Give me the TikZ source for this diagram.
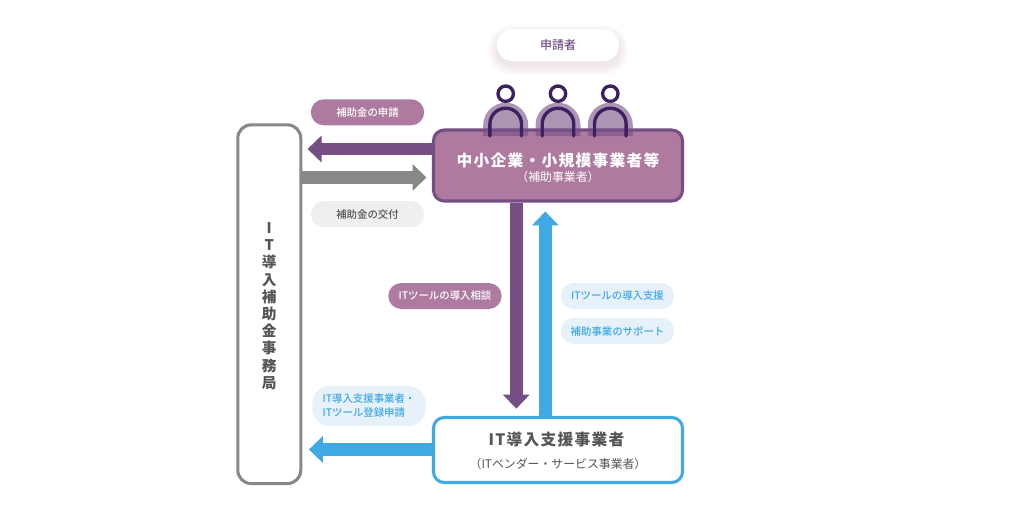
\documentclass[tikz,border=0pt]{standalone}
\usepackage{fontspec}
\setmainfont{Noto Sans CJK JP}[BoldFont={Noto Sans CJK JP Medium}]
\newfontfamily\spacedfont[LetterSpace=8]{Noto Sans CJK JP}
\newfontfamily\heavyfont{Noto Sans CJK JP}
\usetikzlibrary{arrows.meta}
\definecolor{boxpurple}{HTML}{AE7AA0}
\definecolor{deeppurple}{HTML}{754F83}
\definecolor{darkpurple}{HTML}{3B2160}
\definecolor{itblue}{HTML}{3FA9E3}
\definecolor{paleblue}{HTML}{E6F1FA}
\definecolor{midgrey}{HTML}{888888}
\definecolor{palegrey}{HTML}{EFEFEF}
\definecolor{textgrey}{HTML}{555555}
\tikzset{
	every node/.style={inner sep=0pt, align=center},
	pill/.style={rounded corners=9.7pt, minimum width=85pt, minimum height=19.5pt, font=\fontsize{7.8}{10.5}\selectfont\bfseries},
	purplepill/.style={pill, fill=boxpurple, text=white},
	greypill/.style={pill, fill=palegrey, text=textgrey},
	bluepill/.style={pill, fill=paleblue, text=itblue},
	bigbox/.style={rounded corners=8pt, line width=2.3pt, minimum width=186.75pt},
	maintitle/.style={font=\spacedfont\fontsize{11.8}{14}\selectfont\bfseries},
	subtitle/.style={font=\fontsize{8.9}{10}\selectfont},
	fatarrow/.style={line width=9.6pt, -{Triangle[length=10.5pt,width=19.5pt]}},
}

\begin{document}
\begin{tikzpicture}[x=0.75pt, y=-0.75pt]
	\useasboundingbox[fill=white] (0, 0) rectangle (1024, 525);

	%%%%% boxes %%%%%
	\node[draw=midgrey, line width=2.3pt, rounded corners=10pt, minimum width=47.25pt, minimum height=269pt] (office) at (269.3, 304.2) {};
	\node[bigbox, draw=deeppurple, fill=boxpurple, minimum height=53.25pt] (smes) at (558, 165.5) {};
	\node[bigbox, draw=itblue, fill=white, minimum height=48.75pt] (vendor) at (558, 450) {};

	\node[text=textgrey, font=\heavyfont\fontsize{11}{12.9}\selectfont\bfseries] (officetitle) at (269.3, 306.2) {I\\T\\導\\入\\補\\助\\金\\事\\務\\局};
	\node[maintitle, text=white] (smestitle) at (558, 160) {中小企業・小規模事業者等};
	\node[subtitle, text=white] (smessub) at (558, 176.5) {（補助事業者）};
	\node[maintitle, text=textgrey] (vendortitle) at (556.5, 440) {IT導入支援事業者};
	\node[subtitle, text=textgrey] (vendorsub) at (558, 463.5) {（ITベンダー・サービス事業者）};

	%%%%% arrows %%%%%
	\coordinate (applyrow) at (369, 149);
	\coordinate (grantrow) at (369, 177.5);
	\coordinate (consultcol) at (516.3, 300);
	\coordinate (supportcol) at (545.3, 300);
	\coordinate (registerrow) at (369, 449.5);

	\draw[fatarrow, deeppurple, shorten >=3.9pt] (smes.west |- applyrow) -- (office.east |- applyrow);
	\draw[fatarrow, midgrey, shorten >=4.1pt] (office.east |- grantrow) -- (smes.west |- grantrow);
	\draw[fatarrow, deeppurple, shorten >=5.5pt] (smes.south -| consultcol) -- (vendor.north -| consultcol);
	\draw[fatarrow, itblue, shorten >=6.7pt] (vendor.north -| supportcol) -- (smes.south -| supportcol);
	\draw[fatarrow, itblue, shorten >=4.9pt] (vendor.west |- registerrow) -- (office.east |- registerrow);

	%%%%% people %%%%%
	\foreach \px in {505.7, 558, 610.3} {
		\draw[line width=2.5pt, darkpurple] (\px, 93.7) circle (7.7);
		\fill[deeppurple, opacity=0.6] (\px-22.5, 136) -- (\px-22.5, 125.2) arc (180:360:22.5) -- (\px+22.5, 136) -- cycle;
		\draw[line width=2.5pt, darkpurple, line cap=round] (\px-15.8, 136) -- (\px-15.8, 124) arc (180:360:15.8) -- (\px+15.8, 136);
	}

	%%%%% labels %%%%%
	\foreach \s/\r in {9/18.5, 7/17, 5/15.5, 3/14, 1/12.5}
		\fill[boxpurple, opacity=0.035, rounded corners=\r pt] (497-\s, 34-\s) rectangle (619+\s, 66+\s);
	\node[pill, fill=white, text=deeppurple, minimum width=91.5pt, minimum height=24pt, rounded corners=11.9pt, font=\fontsize{9}{11}\selectfont\bfseries] (applicant) at (558, 45) {申請者};

	\node[purplepill] (applylabel) at (367.5, 112.3) {補助金の申請};
	\node[greypill] (grantlabel) at (367.5, 214.2) {補助金の交付};
	\node[purplepill] (consultlabel) at (445, 296) {ITツールの導入相談};
	\node[bluepill] (supportlabel) at (617.5, 296) {ITツールの導入支援};
	\node[bluepill] (helplabel) at (617.5, 331) {補助事業のサポート};
	\node[bluepill, minimum height=30pt, rounded corners=13pt, align=left] (registerlabel) at (369, 406) {IT導入支援事業者・\\ITツール登録申請};
\end{tikzpicture}
\end{document}
